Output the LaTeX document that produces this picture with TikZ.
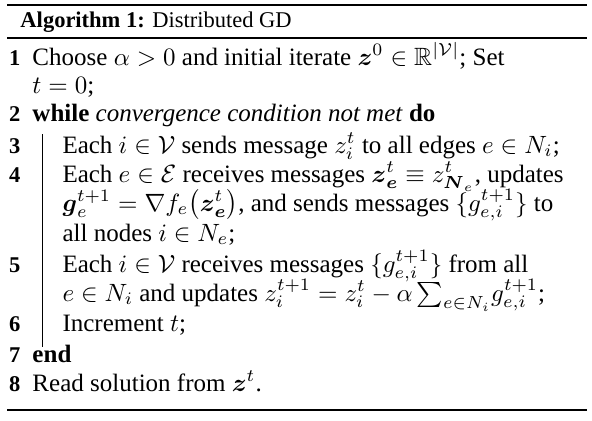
\documentclass[tikz,border=0pt]{standalone}
\usepackage{amsmath}
\usepackage{amssymb}
\usepackage[no-math]{fontspec}
\setmainfont{Liberation Serif}

\begin{document}
\begin{tikzpicture}[x=0.4pt,y=-0.4pt,
  txt/.style={anchor=base west,inner sep=0pt},
  lnum/.style={anchor=base east,inner sep=0pt,font=\small\bfseries},
  hrule/.style={line width=0.8pt}]
\useasboundingbox (0,0) rectangle (592,420);
\draw[hrule] (7,5) -- (587,5);
\node[txt,font=\small] (title) at (20,27) {\textbf{Algorithm 1:} Distributed GD};
\draw[hrule] (7,37.5) -- (587,37.5);
\foreach \n/\y in {1/65,2/121,3/153,4/182,5/272,6/331,7/362,8/391}
  \node[lnum] (n\n) at (21,\y) {\n};
\node[txt] (l1) at (32,65) {Choose $\alpha>0$ and initial iterate $\boldsymbol{z}^0\in\mathbb{R}^{|\mathcal{V}|}$; Set};
\node[txt] (l1b) at (32,93) {$t=0$;};
\node[txt] (l2) at (32,121) {\textbf{while} \textit{convergence condition not met} \textbf{do}};
\node[txt] (l3) at (62,153) {Each $i\in\mathcal{V}$ sends message $z_i^t$ to all edges $e\in N_i$;};
\node[txt] (l4) at (62,182) {Each $e\in\mathcal{E}$ receives messages $\boldsymbol{z}_{\boldsymbol{e}}^t\equiv z^t_{\boldsymbol{N}_e}$, updates};
\node[txt] (l4b) at (62,211) {$\boldsymbol{g}_e^{t+1}=\nabla f_e\bigl(\boldsymbol{z}_{\boldsymbol{e}}^t\bigr)$, and sends messages $\{g_{e,i}^{t+1}\}$ to};
\node[txt] (l4c) at (62,241) {all nodes $i\in N_e$;};
\node[txt] (l5) at (62,272) {Each $i\in\mathcal{V}$ receives messages $\{g_{e,i}^{t+1}\}$ from all};
\node[txt] (l5b) at (62,301) {$e\in N_i$ and updates $z_i^{t+1}=z_i^t-\alpha\sum_{e\in N_i}\!g_{e,i}^{t+1}$;};
\node[txt] (l6) at (62,331) {Increment $t$;};
\node[txt] (l7) at (32,362) {\textbf{end}};
\node[txt] (l8) at (32,391) {Read solution from $\boldsymbol{z}^t$.};
\draw (42,134) -- (42,347);
\draw[hrule,line width=1pt] (7,410) -- (587,410);
\end{tikzpicture}
\end{document}
